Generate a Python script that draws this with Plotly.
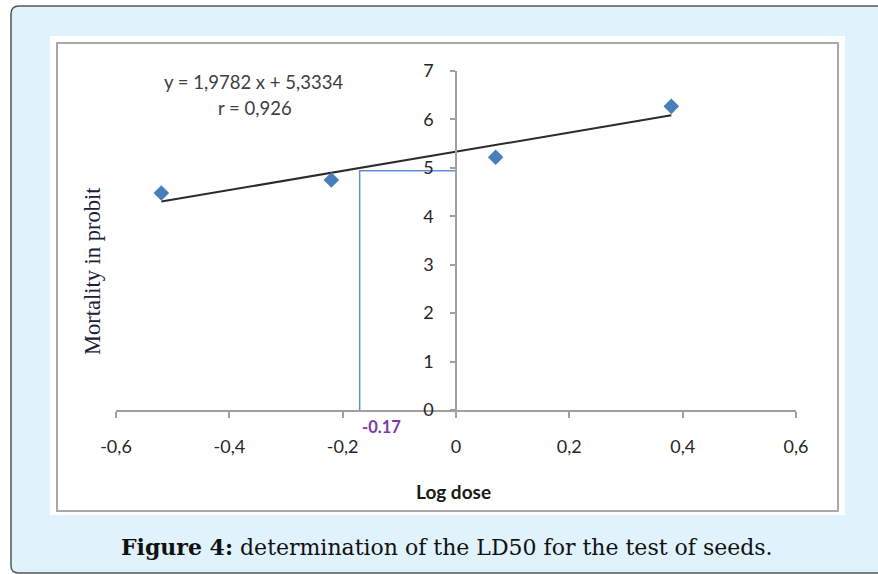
import plotly.graph_objects as go

# ---- data ----
log_dose = [-0.52, -0.22, 0.07, 0.38]
probit = [4.48, 4.75, 5.22, 6.27]
slope = 1.9782
intercept = 5.3334
r_value = 0.926
ld50_x = -0.17
ld50_probit = 4.94
x_tickvals = [-0.6, -0.4, -0.2, 0, 0.2, 0.4, 0.6]
x_ticktext = ["-0,6", "-0,4", "-0,2", "0", "0,2", "0,4", "0,6"]
y_tickvals = [0, 1, 2, 3, 4, 5, 6, 7]
y_ticktext = ["0", "1", "2", "3", "4", "5", "6", "7"]
eq_line1 = "y = 1,9782 x + 5,3334"
eq_line2 = "r = 0,926"
ld50_label = "-0.17"
x_title = "Log dose"
y_title = "Mortality in probit"
caption_bold = "Figure 4:"
caption_rest = " determination of the LD50 for the test of seeds."

# ---- layout geometry ----
W, H = 878, 574
L, R, T, B = 116, 82, 71, 164
PW, PH = W - L - R, H - T - B


def px(x):
    return (x - L) / PW


def py(y):
    return (H - B - y) / PH


trend_x = [min(log_dose), max(log_dose)]
trend_y = [slope * v + intercept for v in trend_x]

fig = go.Figure()

# LD50 guide lines
fig.add_trace(go.Scatter(
    x=[ld50_x, ld50_x, 0], y=[0, ld50_probit, ld50_probit],
    mode="lines", line=dict(color="#5f8fd2", width=1.5),
    hoverinfo="skip", showlegend=False))

# trend line
fig.add_trace(go.Scatter(
    x=trend_x, y=trend_y, mode="lines",
    line=dict(color="#2b2b2b", width=2), showlegend=False))

# data points
fig.add_trace(go.Scatter(
    x=log_dose, y=probit, mode="markers",
    marker=dict(symbol="diamond", size=12, color="#4a7ebb"),
    showlegend=False, cliponaxis=False))

# background shapes
outer = (f"M {px(900)},{py(6)} L {px(19)},{py(6)} Q {px(11)},{py(6)} {px(11)},{py(14)} "
         f"L {px(11)},{py(566)} Q {px(11)},{py(573)} {px(19)},{py(573)} L {px(900)},{py(573)}")
shapes = [
    dict(type="path", path=outer + " Z", xref="paper", yref="paper",
         fillcolor="#e0f2fb", line=dict(width=0), layer="below"),
    dict(type="path", path=outer, xref="paper", yref="paper",
         line=dict(color="#555555", width=1.5), layer="below"),
    dict(type="rect", xref="paper", yref="paper",
         x0=px(50), x1=px(845), y0=py(515), y1=py(36),
         fillcolor="white", line=dict(width=0), layer="below"),
    dict(type="rect", xref="paper", yref="paper",
         x0=px(57), x1=px(838), y0=py(511), y1=py(43),
         fillcolor="white", line=dict(color="#a8a8a8", width=2), layer="below"),
]


def ann(text, x, y, font, **kw):
    d = dict(text=text, xref="paper", yref="paper", x=px(x), y=py(y),
             xanchor="center", yanchor="middle", showarrow=False, font=font)
    d.update(kw)
    return d


annotations = [
    ann(eq_line1, 253, 82, dict(family="Lato", size=18.5, color="#404040")),
    ann(eq_line2, 255, 108, dict(family="Lato", size=18.5, color="#404040")),
    dict(text=f"<b>{ld50_label}</b>", x=ld50_x, y=0, xref="x", yref="y",
         xanchor="left", yanchor="top", xshift=0, yshift=-5, showarrow=False,
         font=dict(family="Lato", size=16.5, color="#7a3aa8")),
    ann(f"<b>{x_title}</b>", 453, 491, dict(family="Lato", size=19, color="#1a1a1a")),
    ann(y_title, 92, 271, dict(family="Liberation Serif", size=22.5, color="#1a2038"),
        textangle=-90),
    ann(f"<b>{caption_bold}</b>{caption_rest}", 447, 547,
        dict(family="DejaVu Serif", size=22, color="#111111")),
]

fig.update_layout(
    width=W, height=H,
    margin=dict(l=L, r=R, t=T, b=B, pad=0),
    paper_bgcolor="white", plot_bgcolor="rgba(0,0,0,0)",
    shapes=shapes, annotations=annotations, showlegend=False,
    xaxis=dict(range=[-0.6, 0.6], tickvals=x_tickvals, ticktext=x_ticktext,
               showgrid=False, zeroline=False, showline=True,
               linecolor="#a0a0a0", linewidth=1.5, ticks="outside", ticklen=6,
               tickcolor="#a0a0a0", tickwidth=1.5, ticklabelstandoff=14,
               tickfont=dict(family="Lato", size=18, color="#262626")),
    yaxis=dict(range=[0, 7], tickvals=y_tickvals, ticktext=y_ticktext,
               anchor="free", position=0.5,
               showgrid=False, zeroline=False, showline=True,
               linecolor="#a0a0a0", linewidth=1.5, ticks="outside", ticklen=5,
               tickcolor="#a0a0a0", tickwidth=1.5, ticklabelstandoff=13,
               tickfont=dict(family="Lato", size=18, color="#262626")),
)

fig.write_html("out.html")
